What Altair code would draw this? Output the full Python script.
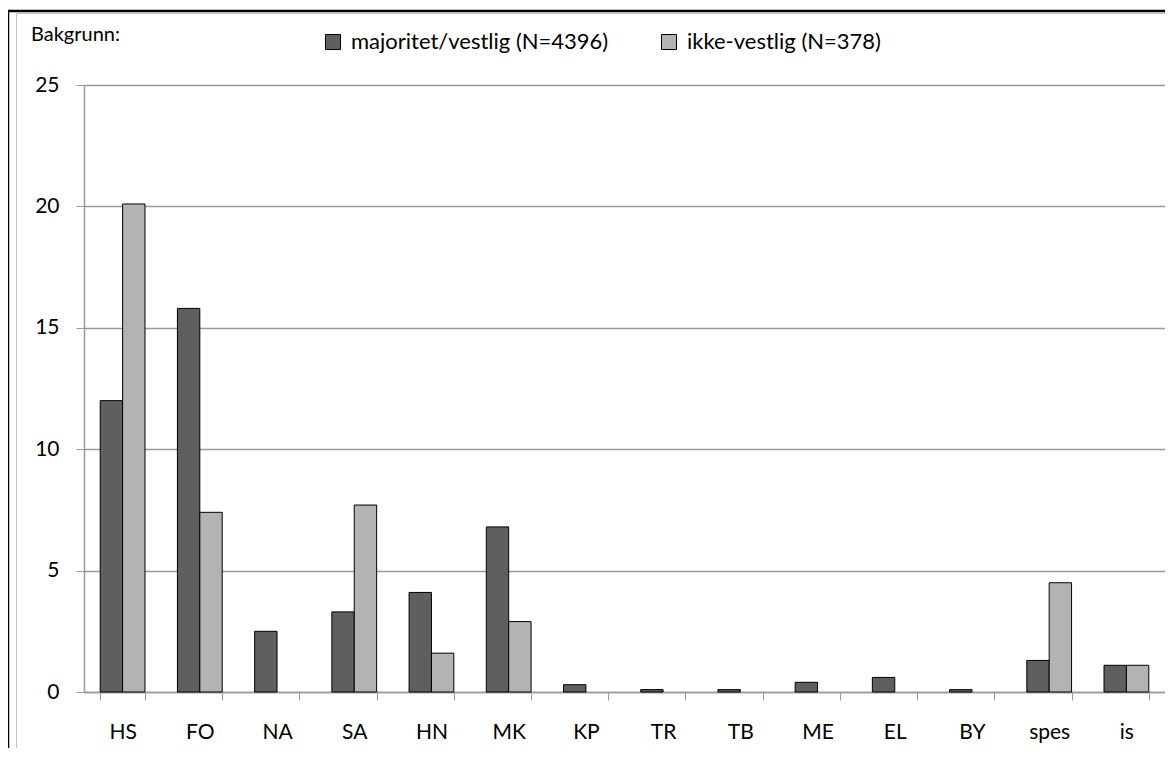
import altair as alt
import pandas as pd

categories = ["HS", "FO", "NA", "SA", "HN", "MK", "KP", "TR", "TB", "ME", "EL", "BY", "spes", "is"]
series_names = ["majoritet/vestlig (N=4396)", "ikke-vestlig (N=378)"]
majoritet = [12.0, 15.8, 2.5, 3.3, 4.1, 6.8, 0.3, 0.1, 0.1, 0.4, 0.6, 0.1, 1.3, 1.1]
ikke_vestlig = [20.1, 7.4, 0.0, 7.7, 1.6, 2.9, 0.0, 0.0, 0.0, 0.0, 0.0, 0.0, 4.5, 1.1]
y_ticks = [0, 5, 10, 15, 20, 25]
colors = ["#5f5f5f", "#b3b3b3"]

rows = []
for c, a, b in zip(categories, majoritet, ikke_vestlig):
    if a > 0:
        rows.append({"cat": c, "series": series_names[0], "val": a})
    if b > 0:
        rows.append({"cat": c, "series": series_names[1], "val": b})
df = pd.DataFrame(rows)

FONT = "Lato"

bars = alt.Chart(df).mark_bar(stroke="black", strokeWidth=1).encode(
    x=alt.X("cat:N", sort=categories,
            scale=alt.Scale(paddingInner=0.42, paddingOuter=0.21),
            axis=alt.Axis(title=None, labelAngle=0, tickBand="extent", tickSize=8,
                          tickColor="#999999", domainColor="#999999", domainWidth=1.5,
                          labelPadding=21, labelFontSize=21, labelFont=FONT,
                          labelColor="black", grid=False)),
    xOffset=alt.XOffset("series:N", sort=series_names,
                        scale=alt.Scale(domain=series_names, paddingInner=0, paddingOuter=0)),
    y=alt.Y("val:Q", scale=alt.Scale(domain=[0, 25], nice=False),
            axis=alt.Axis(title=None, values=y_ticks, tickSize=8, tickColor="#999999",
                          domainColor="#999999", domainWidth=1.5,
                          labelPadding=17, labelFontSize=21, labelFont=FONT,
                          labelColor="black", grid=True, gridColor="#9a9a9a",
                          gridWidth=1.4)),
    color=alt.Color("series:N", sort=series_names,
                    scale=alt.Scale(domain=series_names, range=colors),
                    legend=alt.Legend(orient="none", legendX=238, legendY=-54,
                                      direction="horizontal", title=None,
                                      symbolType="square", symbolSize=225,
                                      symbolStrokeColor="black", symbolStrokeWidth=1,
                                      labelFontSize=22, labelFont=FONT, labelColor="black",
                                      labelOffset=7, columnPadding=49, padding=0,
                                      labelLimit=500)),
)

label = alt.Chart(pd.DataFrame({"t": ["Bakgrunn:"]})).mark_text(
    align="left", baseline="alphabetic", fontSize=20, font=FONT, color="black"
).encode(text="t:N", x=alt.value(-53), y=alt.value(-44))

frame = alt.Chart(pd.DataFrame({"k": [1]})).mark_rect(
    fill="transparent", stroke="black", strokeWidth=2.5
).encode(x=alt.value(-76), y=alt.value(-74), x2=alt.value(1300), y2=alt.value(800))

inner = alt.Chart(pd.DataFrame({"k": [1]})).mark_rect(
    fill="transparent", stroke="#c0c0c0", strokeWidth=1
).encode(x=alt.value(-67.5), y=alt.value(-71.5), x2=alt.value(1300), y2=alt.value(800))

chart = alt.layer(frame, inner, bars, label).properties(
    width=1081, height=607,
    autosize="none",
    padding={"left": 76, "top": 77, "right": 0, "bottom": 56},
).configure_view(stroke="transparent").configure(font=FONT)

chart.save("out.html", embed_options={"renderer": "svg", "actions": False})
